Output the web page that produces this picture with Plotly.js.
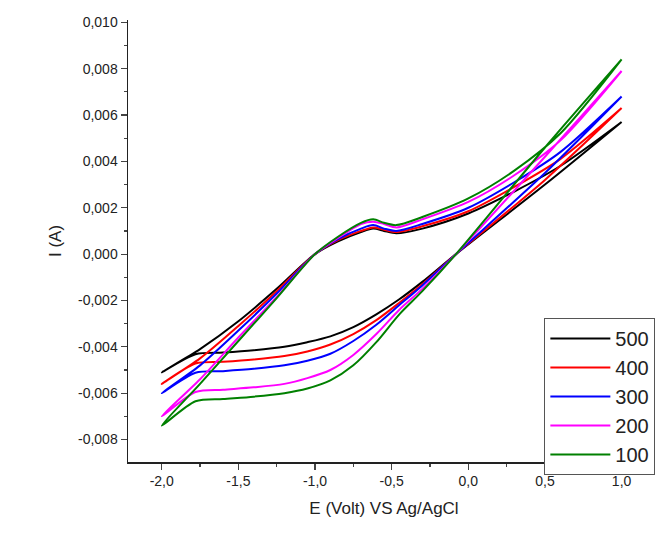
<!DOCTYPE html>
<html>
<head>
<meta charset="utf-8">
<script src="https://cdn.plot.ly/plotly-3.0.1.min.js"></script>
<style>body{margin:0;background:#fff}#chart{width:660px;height:535px}</style>
</head>
<body>
<div id="chart"></div>
<script>
// scan rates (legend) and potentials
const rates = ["500", "400", "300", "200", "100"];
const colors = ["#000000", "#ff0000", "#0000ff", "#ff00ff", "#008000"];

const upperE = [-2, -1.75, -1.5, -1.25, -1, -0.85, -0.7, -0.62, -0.55, -0.47, -0.3, 0, 0.3, 0.6, 1.0];
const lowerE = [1.0, 0.5, -0.08, -0.3, -0.45, -0.6, -0.75, -0.9, -1.05, -1.2, -1.4, -1.6, -1.78, -2.0];

const xTicks = [-2, -1.5, -1, -0.5, 0, 0.5, 1];
const xTickText = ["-2,0", "-1,5", "-1,0", "-0,5", "0,0", "0,5", "1,0"];
const yTicks = [-0.008, -0.006, -0.004, -0.002, 0, 0.002, 0.004, 0.006, 0.008, 0.010];
const yTickText = ["-0,008", "-0,006", "-0,004", "-0,002", "0,000", "0,002", "0,004", "0,006", "0,008", "0,010"];

// currents in mA (converted to A below)
const upperI = [
  [-5.1, -4.1, -2.9, -1.5, 0, 0.55, 0.95, 1.1, 1.0, 0.9, 1.1, 1.75, 2.7, 3.8, 5.7],
  [-5.6, -4.5, -3.1, -1.6, 0, 0.6, 1.0, 1.15, 1.05, 0.95, 1.2, 1.85, 2.9, 4.1, 6.3],
  [-6.0, -4.8, -3.3, -1.7, 0, 0.65, 1.1, 1.25, 1.1, 1.0, 1.3, 2.0, 3.1, 4.4, 6.8],
  [-7.0, -5.4, -3.6, -1.85, 0, 0.7, 1.3, 1.4, 1.3, 1.15, 1.5, 2.25, 3.4, 4.9, 7.9],
  [-7.4, -5.6, -3.75, -1.9, 0, 0.75, 1.35, 1.5, 1.35, 1.25, 1.6, 2.4, 3.6, 5.2, 8.4]
];
const lowerI = [
  [5.7, 3.0, 0, -1.2, -1.95, -2.6, -3.15, -3.55, -3.8, -4.0, -4.15, -4.25, -4.32, -5.1],
  [6.3, 3.2, 0, -1.3, -2.1, -2.85, -3.45, -3.9, -4.2, -4.4, -4.55, -4.65, -4.72, -5.6],
  [6.8, 3.5, 0, -1.35, -2.2, -3.05, -3.75, -4.3, -4.6, -4.8, -4.95, -5.05, -5.12, -6.0],
  [7.9, 4.2, 0, -1.5, -2.4, -3.45, -4.35, -5.0, -5.35, -5.6, -5.75, -5.85, -5.95, -7.0],
  [8.4, 4.6, 0, -1.6, -2.6, -3.8, -4.8, -5.45, -5.8, -6.0, -6.15, -6.25, -6.35, -7.4]
];

const traces = rates.map((r, k) => ({
  type: "scatter",
  mode: "lines",
  name: r,
  x: upperE.concat(lowerE),
  y: upperI[k].concat(lowerI[k]).map((v) => v / 1000),
  line: { color: colors[k], width: 2, shape: "spline", smoothing: 0.8 }
}));

const font = { family: "Liberation Sans, Arial, sans-serif", color: "#222" };
const layout = {
  width: 660, height: 535,
  margin: { l: 128, r: 20, t: 20, b: 73, autoexpand: false },
  paper_bgcolor: "#fff", plot_bgcolor: "#fff",
  font: font,
  showlegend: true,
  legend: {
    x: 1.03, xanchor: "right", y: 0.326, yanchor: "top",
    bordercolor: "#555", borderwidth: 1,
    font: { size: 20, family: font.family, color: "#222" },
    itemwidth: 60,
    tracegroupgap: 0
  },
  xaxis: {
    range: [-2.22, 1.12],
    tickvals: xTicks, ticktext: xTickText,
    ticks: "outside", ticklen: 6, tickwidth: 1.2,
    minor: { dtick: 0.25, tick0: 0, ticks: "outside", ticklen: 3 },
    showline: true, linecolor: "#222", linewidth: 1.5,
    showgrid: false, zeroline: false,
    tickfont: { size: 14 },
    title: { text: "E (Volt) VS Ag/AgCl", font: { size: 17 }, standoff: 14 }
  },
  yaxis: {
    range: [-0.00897, 0.0101],
    tickvals: yTicks, ticktext: yTickText,
    ticks: "outside", ticklen: 6, tickwidth: 1.2,
    minor: { dtick: 0.001, tick0: 0, ticks: "outside", ticklen: 3 },
    showline: true, linecolor: "#222", linewidth: 1.5,
    showgrid: false, zeroline: false,
    tickfont: { size: 14 },
    title: { text: "I (A)", font: { size: 17 }, standoff: 12 }
  }
};

Plotly.newPlot("chart", traces, layout, { displayModeBar: false, staticPlot: true });
</script>
</body>
</html>
